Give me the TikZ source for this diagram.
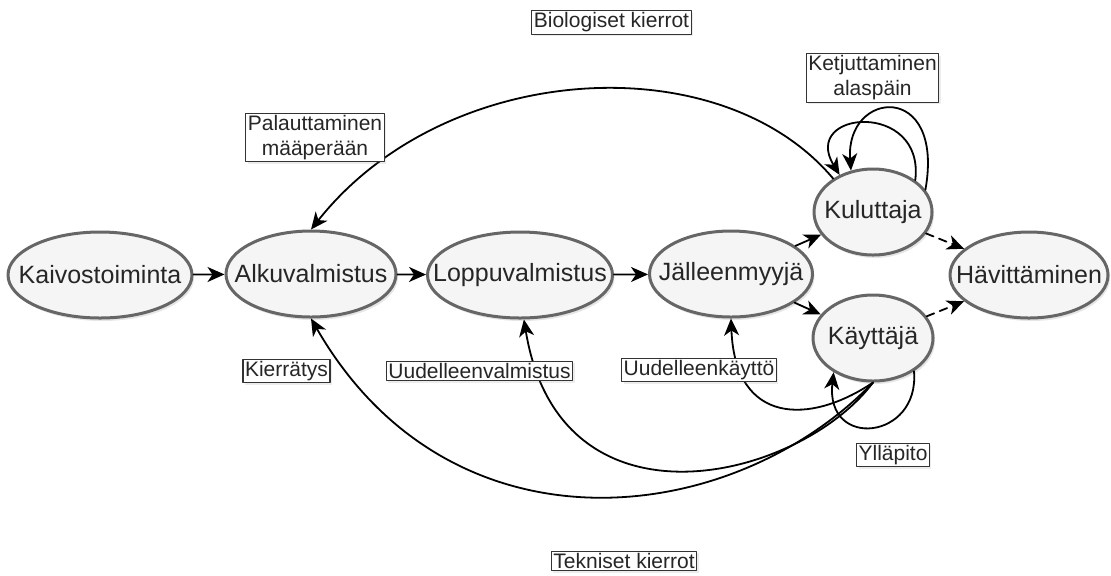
\documentclass[tikz,border=0pt]{standalone}
\usepackage{fontspec}
\setmainfont{Liberation Sans}
\usetikzlibrary{arrows.meta}
\usetikzlibrary{shapes.geometric}
\usetikzlibrary{shadows}

\begin{document}
\begin{tikzpicture}[x=0.5pt,y=-0.5pt,line cap=round,line join=round,
    >={Stealth[length=8.5pt,width=7.5pt,inset=2.5pt]},
    vaihe/.style={ellipse,draw=black!60,line width=1.5pt,fill=black!4,minimum height=43pt,inner sep=0pt,
      font=\fontsize{12.5}{15}\selectfont,text=black!85,
      drop shadow={opacity=0.2,shadow xshift=1pt,shadow yshift=-1.5pt}},
    kierto/.style={draw=black!80,line width=0.6pt,fill=white,inner sep=1pt,align=center,
      font=\fontsize{10.5}{12.5}\selectfont,text=black!85,
      drop shadow={opacity=0.15,shadow xshift=1pt,shadow yshift=-1pt}},
    virta/.style={->,line width=0.9pt},
    hukka/.style={->,line width=0.9pt,dash pattern=on 4pt off 3pt}]
        \useasboundingbox (0,0) rectangle (1111,575);
        % vaiheet
        \node[vaihe,minimum width=92pt] (kaivos) at (100,275) {\makebox[0pt]{Kaivostoiminta}};
        \node[vaihe,minimum width=85pt] (alku) at (311,274) {\makebox[0pt]{Alkuvalmistus}};
        \node[vaihe,minimum width=92.5pt] (loppu) at (520,275) {\makebox[0pt]{Loppuvalmistus}};
        \node[vaihe,minimum width=81.5pt] (jalleen) at (731,274) {\makebox[0pt]{Jälleenmyyjä}};
        \node[vaihe,minimum width=59pt] (kulu) at (873,212) {\makebox[0pt]{Kuluttaja}};
        \node[vaihe,minimum width=60pt] (kaytta) at (873,338) {\makebox[0pt]{Käyttäjä}};
        \node[vaihe,minimum width=79pt] (havit) at (1029,275) {\makebox[0pt]{Hävittäminen}};
        % ketju
        \draw[virta] (kaivos) -- (alku);
        \draw[virta] (alku) -- (loppu);
        \draw[virta] (loppu) -- (jalleen);
        \draw[virta] (jalleen) -- (kulu);
        \draw[virta] (jalleen) -- (kaytta);
        \draw[hukka] (kulu) -- (havit);
        \draw[hukka] (kaytta) -- (havit);
        % biologiset kierrot
        \draw[virta] (kulu.140) .. controls (720,44) and (445,60) .. (alku.north);
        \draw[virta] (kulu.23) .. controls (945,80) and (845,90) .. (kulu.118);
        \draw[virta] (kulu.37) .. controls (925,100) and (800,110) .. (kulu.132);
        % tekniset kierrot
        \draw[virta] (kaytta.south) .. controls (810,425) and (735,425) .. (jalleen.south);
        \draw[virta] (kaytta.south) .. controls (800,480) and (560,540) .. (loppu.-85);
        \draw[virta] (kaytta.south) .. controls (730,530) and (450,560) .. (alku.south);
        \draw[virta] (kaytta.-39) .. controls (920,440) and (825,450) .. (kaytta.221);
        % tekstit
        \node[kierto] (bio) at (611.5,22.5) {Biologiset kierrot};
        \node[kierto] (tekn) at (624,561) {Tekniset kierrot};
        \node[kierto] (ketju) at (872.5,78) {Ketjuttaminen\\alaspäin};
        \node[kierto] (palaut) at (315,137.5) {Palauttaminen\\määperään};
        \node[kierto] (kierr) at (286.5,371) {Kierrätys};
        \node[kierto] (uvalm) at (479.5,371) {Uudelleenvalmistus};
        \node[kierto] (ukaytto) at (699,370) {Uudelleenkäyttö};
        \node[kierto] (yllap) at (893,455) {Ylläpito};
\end{tikzpicture}
\end{document}
